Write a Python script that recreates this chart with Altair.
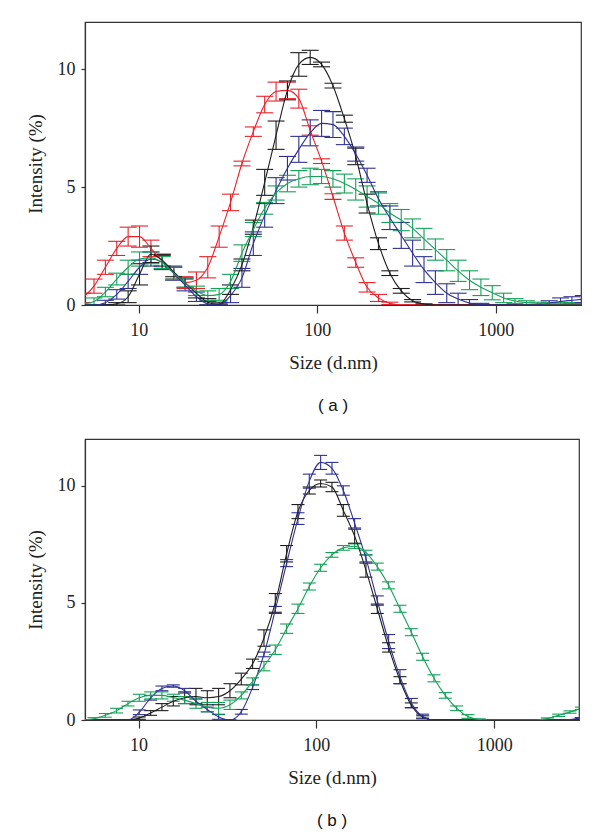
import altair as alt
import pandas as pd

# DLS size bins (d.nm)
sizes = [4.849, 5.615, 6.503, 7.531, 8.721, 10.10, 11.70, 13.54, 15.69, 18.17,
         21.04, 24.36, 28.21, 32.67, 37.84, 43.82, 50.75, 58.77, 68.06, 78.82,
         91.28, 105.7, 122.4, 141.8, 164.2, 190.1, 220.2, 255.0, 295.3, 342.0,
         396.1, 458.7, 531.2, 615.1, 712.4, 825.0, 955.4, 1106, 1281, 1484,
         1718, 1990, 2305, 2669, 3091]

# ---- panel (a) ----
red_a = [0.3, 0.8, 1.6, 2.4, 2.9, 2.9, 2.4, 1.85, 1.35, 0.95,
         1.05, 1.6, 2.9, 4.35, 6.0, 7.35, 8.5, 9.05, 9.1, 8.75,
         7.4, 6.1, 4.6, 3.05, 1.8, 0.75, 0.3, 0.07, 0, 0,
         0, 0, 0, 0, 0, 0, 0, 0, 0, 0, 0, 0, 0, 0, 0]
red_a_err = [0.2, 0.3, 0.3, 0.3, 0.4, 0.45, 0.35, 0.3, 0.25, 0.25,
             0.35, 0.45, 0.45, 0.35, 0.1, 0.2, 0.35, 0.4, 0.35, 0.4,
             0.2, 0.1, 0.12, 0.3, 0.2, 0.2, 0.15, 0.05, 0, 0,
             0, 0, 0, 0, 0, 0, 0, 0, 0, 0, 0, 0, 0, 0, 0]
black_a = [0, 0, 0, 0.05, 0.35, 1.3, 2.15, 1.9, 1.4, 0.95,
           0.5, 0.12, 0.02, 0.65, 1.7, 3.3, 5.2, 7.2, 9.1, 10.2,
           10.5, 10.2, 9.3, 7.9, 6.3, 4.3, 2.6, 1.35, 0.6, 0.18,
           0.04, 0, 0, 0, 0, 0, 0, 0, 0, 0, 0, 0, 0, 0, 0]
black_a_err = [0, 0, 0, 0.05, 0.25, 0.45, 0.35, 0.25, 0.2, 0.2,
               0.2, 0.15, 0.1, 0.2, 0.25, 0.3, 0.55, 0.6, 0.4, 0.5,
               0.3, 0.1, 0.1, 0.15, 0.35, 0.4, 0.25, 0.1, 0.1, 0.05,
               0, 0, 0, 0, 0, 0, 0, 0, 0, 0, 0, 0, 0, 0, 0]
blue_a = [0, 0, 0.1, 0.45, 1.0, 1.6, 1.95, 1.8, 1.35, 0.85,
          0.35, 0.05, 0, 0.4, 1.15, 2.6, 3.8, 4.85, 5.8, 6.6,
          7.3, 7.7, 7.65, 7.15, 6.4, 5.5, 4.5, 3.7, 2.95, 2.2,
          1.5, 0.95, 0.5, 0.25, 0.08, 0.02, 0, 0, 0, 0,
          0, 0.08, 0.15, 0.2, 0.25]
blue_a_err = [0, 0, 0.1, 0.2, 0.3, 0.3, 0.3, 0.3, 0.3, 0.25,
              0.2, 0.1, 0.05, 0.3, 0.4, 0.5, 0.5, 0.55, 0.5, 0.55,
              0.55, 0.55, 0.55, 0.35, 0.3, 0.3, 0.3, 0.5, 0.55, 0.55,
              0.55, 0.5, 0.4, 0.25, 0.15, 0.05, 0, 0, 0, 0,
              0, 0.1, 0.15, 0.15, 0.15]
green_a = [0.05, 0.15, 0.55, 1.1, 1.6, 1.95, 2.0, 1.8, 1.35, 0.95,
           0.6, 0.4, 0.45, 1.0, 2.2, 3.2, 4.1, 4.75, 5.15, 5.35,
           5.45, 5.45, 5.35, 5.15, 4.9, 4.6, 4.3, 3.9, 3.6, 3.25,
           2.8, 2.35, 1.9, 1.45, 1.05, 0.75, 0.52, 0.3, 0.17, 0.1,
           0.07, 0.05, 0.05, 0.05, 0.05]
green_a_err = [0.05, 0.15, 0.2, 0.25, 0.3, 0.3, 0.25, 0.25, 0.25, 0.2,
               0.2, 0.2, 0.25, 0.3, 0.35, 0.3, 0.25, 0.3, 0.35, 0.35,
               0.35, 0.3, 0.35, 0.4, 0.45, 0.45, 0.45, 0.4, 0.45, 0.4,
               0.45, 0.45, 0.45, 0.45, 0.4, 0.35, 0.3, 0.2, 0.1, 0.08,
               0.05, 0.05, 0.05, 0.05, 0]

# ---- panel (b) ----
black_b = [0, 0, 0, 0, 0, 0.08, 0.3, 0.55, 0.8, 0.95,
           1.0, 0.95, 1.0, 1.25, 1.75, 2.4, 3.5, 5.0, 7.1, 8.9,
           9.8, 10.1, 9.95, 8.95, 7.85, 6.4, 4.75, 3.1, 1.7, 0.63,
           0.13, 0, 0, 0, 0, 0, 0, 0, 0, 0, 0, 0, 0, 0, 0]
black_b_err = [0, 0, 0, 0, 0, 0.05, 0.1, 0.15, 0.2, 0.25,
               0.35, 0.3, 0.35, 0.3, 0.25, 0.2, 0.35, 0.4, 0.35, 0.3,
               0.15, 0.15, 0.2, 0.25, 0.3, 0.3, 0.2, 0.2, 0.15, 0.1,
               0.05, 0, 0, 0, 0, 0, 0, 0, 0, 0, 0, 0, 0, 0, 0]
blue_b = [0, 0, 0, 0, 0, 0.33, 0.95, 1.35, 1.45, 1.25,
          0.8, 0.45, 0.13, 0, 0.35, 1.4, 2.8, 4.7, 6.7, 8.6,
          10.2, 11.0, 10.75, 9.8, 8.4, 6.9, 5.1, 3.35, 1.85, 0.72,
          0.15, 0, 0, 0, 0, 0, 0, 0, 0, 0, 0, 0, 0, 0.02, 0.1]
blue_b_err = [0, 0, 0, 0, 0, 0.1, 0.1, 0.1, 0.05, 0.1,
              0.1, 0.1, 0.1, 0, 0.1, 0.1, 0.1, 0.15, 0.15, 0.25,
              0.3, 0.3, 0.25, 0.2, 0.2, 0.15, 0.2, 0.3, 0.3, 0.2,
              0.1, 0, 0, 0, 0, 0, 0, 0, 0, 0, 0, 0, 0, 0, 0]
green_b = [0, 0.05, 0.2, 0.4, 0.7, 0.95, 1.05, 1.05, 0.95, 0.85,
           0.7, 0.55, 0.5, 0.65, 1.05, 1.65, 2.3, 3.0, 3.9, 4.75,
           5.7, 6.5, 7.05, 7.35, 7.42, 7.15, 6.55, 5.75, 4.75, 3.75,
           2.7, 1.78, 1.05, 0.5, 0.15, 0.02, 0, 0, 0, 0,
           0, 0.06, 0.2, 0.34, 0.5]
green_b_err = [0, 0.05, 0.08, 0.1, 0.1, 0.15, 0.15, 0.15, 0.15, 0.15,
               0.2, 0.2, 0.25, 0.2, 0.15, 0.15, 0.2, 0.2, 0.2, 0.2,
               0.15, 0.15, 0.1, 0.1, 0.1, 0.1, 0.15, 0.15, 0.15, 0.15,
               0.15, 0.15, 0.12, 0.1, 0.08, 0.03, 0, 0, 0, 0,
               0, 0.03, 0.05, 0.05, 0.05]

series_names = ["red", "black", "blue", "green"]
series_colors = ["#e8222b", "#1e1e1e", "#2e3192", "#14a158"]

x_ticks = [10, 100, 1000]
y_ticks = [0, 5, 10]

SERIF = "'Liberation Serif', 'DejaVu Serif', 'Times New Roman', serif"


def build_panel(series, cap, width, height, label):
    rows = []
    for name, vals, errs in series:
        for s, v, e in zip(sizes, vals, errs):
            rows.append({"size": s, "value": v, "lo": max(v - e, 0.0),
                         "hi": v + e, "series": name})
    df = pd.DataFrame(rows)
    xs = alt.Scale(type="log", domain=[5, 3000])
    ys = alt.Scale(domain=[0, 12], nice=False)
    xa = alt.Axis(values=x_ticks, format="d", title="Size (d.nm)", grid=False,
                  tickSize=8, labelPadding=8, titlePadding=14)
    ya = alt.Axis(values=y_ticks, title="Intensity (%)", grid=False,
                  tickSize=4, labelPadding=6, titlePadding=12)
    col = alt.Color("series:N", scale=alt.Scale(domain=series_names, range=series_colors),
                    legend=None)
    base = alt.Chart(df)
    line = base.mark_line(interpolate="monotone", clip=True, strokeWidth=1.1).encode(
        x=alt.X("size:Q", scale=xs, axis=xa),
        y=alt.Y("value:Q", scale=ys, axis=ya),
        color=col)
    rule = base.mark_rule(clip=True, strokeWidth=1.1).encode(
        x=alt.X("size:Q", scale=xs, axis=xa),
        y=alt.Y("lo:Q", scale=ys, axis=ya),
        y2="hi:Q",
        color=col)
    cap_hi = base.mark_tick(orient="horizontal", size=cap, thickness=1.1,
                            opacity=1, clip=True).encode(
        x=alt.X("size:Q", scale=xs, axis=xa),
        y=alt.Y("hi:Q", scale=ys, axis=ya),
        color=col)
    cap_lo = base.mark_tick(orient="horizontal", size=cap, thickness=1.1,
                            opacity=1, clip=True).encode(
        x=alt.X("size:Q", scale=xs, axis=xa),
        y=alt.Y("lo:Q", scale=ys, axis=ya),
        color=col)
    return alt.layer(rule, cap_hi, cap_lo, line).properties(
        width=width, height=height,
        title=alt.TitleParams(text=label, orient="bottom", font="Liberation Sans",
                              fontSize=17, fontWeight="normal", color="#111", offset=26))


panel_a = build_panel([("red", red_a, red_a_err), ("black", black_a, black_a_err),
                       ("blue", blue_a, blue_a_err), ("green", green_a, green_a_err)],
                      17, 496, 283, "( a )")
panel_b = build_panel([("black", black_b, black_b_err), ("blue", blue_b, blue_b_err),
                       ("green", green_b, green_b_err)],
                      13, 494, 281, "( b )")

chart = alt.vconcat(panel_a, panel_b, spacing=23).properties(
    padding={"left": 17, "top": 13, "right": 5, "bottom": 0}
).configure_view(stroke="#333", strokeWidth=1.2).configure_axis(
    labelFont=SERIF, titleFont=SERIF,
    labelFontSize=18, titleFontSize=19, titleFontWeight="normal",
    labelColor="#222", titleColor="#222", domainColor="#333", tickColor="#333",
    domainWidth=1.2, tickWidth=1.2
)

chart.save("out.html", embed_options={"renderer": "svg", "actions": False})
